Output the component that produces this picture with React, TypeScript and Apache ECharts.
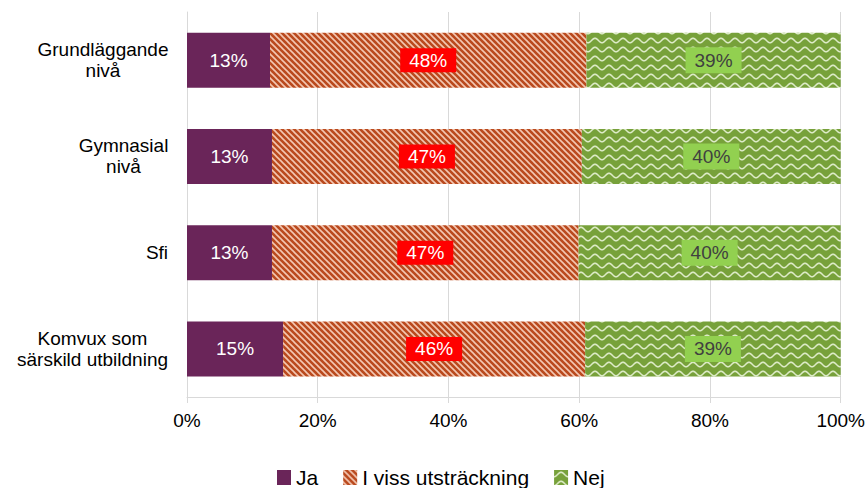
import React, { useEffect, useRef } from "react";
import * as echarts from "echarts";

const categories = ["Grundläggande\nnivå", "Gymnasial\nnivå", "Sfi", "Komvux som\nsärskild utbildning"];
const seriesNames = ["Ja", "I viss utsträckning", "Nej"];
const jaValues = [12.7, 13.0, 13.0, 14.7];
const delvisValues = [48.4, 47.4, 46.9, 46.2];
const nejValues = [38.9, 39.6, 40.1, 39.1];
const xTicks = [0, 20, 40, 60, 80, 100];

const FONT = '"Liberation Sans", Arial, sans-serif';

function hatchTile(): HTMLCanvasElement {
  const s = 6;
  const c = document.createElement("canvas");
  c.width = s;
  c.height = s;
  const ctx = c.getContext("2d")!;
  ctx.fillStyle = "#BA4A1E";
  ctx.fillRect(0, 0, s, s);
  ctx.strokeStyle = "rgba(246,206,186,0.95)";
  ctx.lineWidth = 1.6;
  for (const o of [-s, 0, s]) {
    ctx.beginPath();
    ctx.moveTo(o - 1, -1);
    ctx.lineTo(o + s + 1, s + 1);
    ctx.stroke();
  }
  return c;
}

function waveTile(): HTMLCanvasElement {
  const w = 14;
  const h = 9;
  const c = document.createElement("canvas");
  c.width = w;
  c.height = h;
  const ctx = c.getContext("2d")!;
  ctx.fillStyle = "#77A13A";
  ctx.fillRect(0, 0, w, h);
  ctx.strokeStyle = "rgba(225,238,205,0.95)";
  ctx.lineWidth = 1.6;
  ctx.beginPath();
  for (let x = -1; x <= w + 1; x += 0.5) {
    const y = 4.5 + 2.2 * Math.cos((2 * Math.PI * x) / w);
    if (x === -1) ctx.moveTo(x, y);
    else ctx.lineTo(x, y);
  }
  ctx.stroke();
  return c;
}

export default function App() {
  const ref = useRef<HTMLDivElement>(null);

  useEffect(() => {
    if (!ref.current) return;
    const chart = echarts.init(ref.current, null, { renderer: "svg" });

    const mctx = document.createElement("canvas").getContext("2d")!;
    mctx.font = `19px ${FONT}`;
    const rich: Record<string, any> = {};
    categories.forEach((cat, i) => {
      const w = Math.max(...cat.split("\n").map((l) => mctx.measureText(l).width));
      rich["c" + i] = {
        width: Math.ceil(w) + 1,
        align: "center",
        fontSize: 19,
        fontFamily: FONT,
        color: "#000",
        lineHeight: 21,
      };
    });

    const hatch = hatchTile();
    const wave = waveTile();

    const labelBase = {
      show: true,
      position: "inside",
      fontFamily: FONT,
      fontSize: 19,
      formatter: (p: any) => Math.round(p.value) + "%",
    };

    chart.setOption({
      animation: false,
      grid: { left: 187, right: 27, top: 12, bottom: 91, containLabel: false },
      legend: {
        left: 272,
        top: 462,
        itemWidth: 14,
        itemHeight: 15,
        itemGap: 25,
        icon: "rect",
        textStyle: { fontFamily: FONT, fontSize: 21, color: "#000", padding: [0, 0, 0, 0] },
        data: seriesNames,
      },
      xAxis: {
        type: "value",
        min: 0,
        max: 100,
        interval: 20,
        axisLine: { show: true, lineStyle: { color: "#D9D9D9" } },
        axisTick: { show: true, length: 6, lineStyle: { color: "#D9D9D9" } },
        splitLine: { show: true, lineStyle: { color: "#D9D9D9", width: 1 } },
        axisLabel: {
          margin: 14,
          fontFamily: FONT,
          fontSize: 19,
          color: "#000",
          formatter: (v: number) => (xTicks.includes(v) ? v + "%" : ""),
        },
      },
      yAxis: {
        type: "category",
        inverse: true,
        data: categories,
        axisLine: { show: true, lineStyle: { color: "#D9D9D9" } },
        axisTick: { show: false },
        axisLabel: {
          margin: 18,
          align: "right",
          formatter: (v: string, i: number) =>
            v
              .split("\n")
              .map((l) => `{c${i}|${l}}`)
              .join("\n"),
          rich,
        },
      },
      series: [
        {
          name: seriesNames[0],
          type: "bar",
          stack: "t",
          barWidth: 55,
          data: jaValues,
          itemStyle: { color: "#6A2559" },
          label: { ...labelBase, color: "#fff" },
        },
        {
          name: seriesNames[1],
          type: "bar",
          stack: "t",
          barWidth: 55,
          data: delvisValues,
          itemStyle: { color: { image: hatch, repeat: "repeat" } },
          label: {
            ...labelBase,
            color: "#fff",
            backgroundColor: "#FF0000",
            padding: [3, 9, 2, 9],
          },
        },
        {
          name: seriesNames[2],
          type: "bar",
          stack: "t",
          barWidth: 55,
          data: nejValues,
          itemStyle: { color: { image: wave, repeat: "repeat" } },
          label: {
            ...labelBase,
            color: "#404040",
            backgroundColor: "#92D050",
            padding: [4, 9, 3, 9],
          },
        },
      ],
    });

    return () => chart.dispose();
  }, []);

  return <div ref={ref} style={{ width: 868, height: 488, position: "absolute", left: 0, top: 0 }} />;
}
